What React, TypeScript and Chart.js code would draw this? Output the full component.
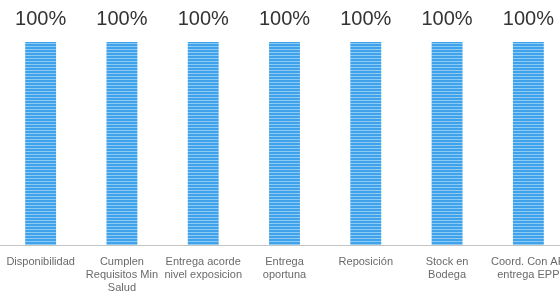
import React, { useEffect, useRef } from "react";
import { Chart, registerables } from "chart.js";

Chart.register(...registerables);

const categories: (string | string[])[] = [
  "Disponibilidad",
  ["Cumplen", "Requisitos Min", "Salud"],
  ["Entrega acorde", "nivel exposicion"],
  ["Entrega", "oportuna"],
  "Reposición",
  ["Stock en", "Bodega"],
  ["Coord. Con AR", "entrega EPP"],
];

const values: number[] = [100, 100, 100, 100, 100, 100, 100];
const valueLabels: string[] = ["100%", "100%", "100%", "100%", "100%", "100%", "100%"];

function makePattern(): CanvasPattern | string {
  const c = document.createElement("canvas");
  c.width = 6;
  c.height = 3;
  const g = c.getContext("2d");
  if (!g) return "#4aa7ea";
  g.fillStyle = "#3fa2ea";
  g.fillRect(0, 0, 6, 3);
  g.fillStyle = "#8ccbf3";
  g.fillRect(0, 1, 6, 1);
  const p = g.createPattern(c, "repeat");
  return p || "#4aa7ea";
}

const valueLabelPlugin = {
  id: "valueLabels",
  afterDatasetsDraw(chart: any) {
    const ctx = chart.ctx;
    const meta = chart.getDatasetMeta(0);
    ctx.save();
    ctx.font = "20px 'Liberation Sans', Arial, sans-serif";
    ctx.fillStyle = "#333333";
    ctx.textAlign = "center";
    ctx.textBaseline = "middle";
    meta.data.forEach((bar: any, i: number) => {
      ctx.fillText(valueLabels[i], bar.x, bar.y - 23);
    });
    ctx.restore();
  },
};

export default function App() {
  const ref = useRef<HTMLCanvasElement>(null);
  useEffect(() => {
    if (!ref.current) return;
    const chart = new Chart(ref.current, {
      type: "bar",
      data: {
        labels: categories,
        datasets: [
          {
            data: values,
            backgroundColor: makePattern() as any,
            borderWidth: 0,
            barPercentage: 0.38,
            categoryPercentage: 1,
          },
        ],
      },
      options: {
        animation: false,
        responsive: false,
        maintainAspectRatio: false,
        layout: { padding: 0 },
        plugins: { legend: { display: false }, tooltip: { enabled: false } },
        scales: {
          x: {
            grid: { display: false, drawTicks: false },
            border: { display: true, color: "#c4c4c4", width: 1 },
            ticks: {
              autoSkip: false,
              maxRotation: 0,
              minRotation: 0,
              padding: 10,
              color: "#6a6a6a",
              font: { family: "'Liberation Sans', Arial, sans-serif", size: 11 },
            },
            afterFit: (scale: any) => {
              scale.height = 49;
              scale.paddingLeft = 0;
              scale.paddingRight = 0;
            },
          },
          y: {
            display: false,
            min: 0,
            max: 120.7,
          },
        },
      },
      plugins: [valueLabelPlugin],
    });
    return () => chart.destroy();
  }, []);
  return (
    <div
      style={{
        position: "fixed",
        left: 0,
        top: 0,
        width: 560,
        height: 294,
        overflow: "hidden",
        background: "#fff",
      }}
    >
      <canvas
        ref={ref}
        width={569}
        height={294}
        style={{ display: "block", width: 569, height: 294 }}
      />
    </div>
  );
}
